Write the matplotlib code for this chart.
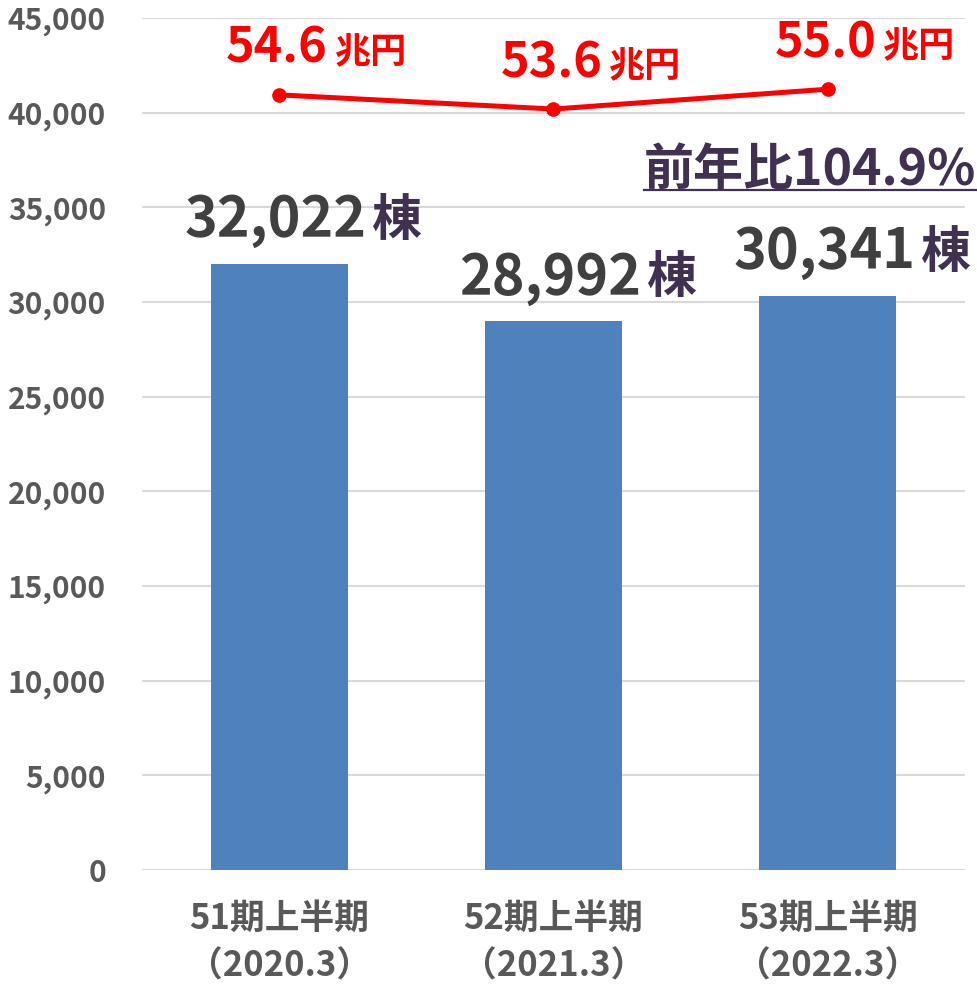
import matplotlib
matplotlib.use("Agg")
import matplotlib.pyplot as plt
from matplotlib.lines import Line2D
from matplotlib.ticker import FuncFormatter

plt.rcParams['font.family'] = ['Noto Sans CJK JP', 'DejaVu Sans']

# data
periods = ['51期上半期\n（2020.3）', '52期上半期\n（2021.3）', '53期上半期\n（2022.3）']
houses = [32022, 28992, 30341]          # 棟
amounts = [54.6, 53.6, 55.0]             # 兆円
yoy_label = '前年比104.9%'

blue = '#4F81BD'
grid_gray = '#D9D9D9'
tick_gray = '#595959'
num_gray = '#404040'
purple = '#403151'
red = '#FF0000'

fig = plt.figure(figsize=(9.78, 9.94), dpi=100)
ax = fig.add_axes([0.1452, 0.1247, 0.8415, 0.857])
x = list(range(len(periods)))

ax.bar(x, houses, width=0.5, color=blue, zorder=2)
ax.set_xlim(-0.5, 2.5)
ax.set_ylim(0, 45000)
ax.set_yticks(range(0, 45001, 5000))
ax.yaxis.set_major_formatter(FuncFormatter(lambda v, p: f'{int(v):,}'))
ax.grid(axis='y', color=grid_gray, linewidth=1.5, zorder=0)
ax.set_axisbelow(True)
for s in ax.spines.values():
    s.set_visible(False)
ax.tick_params(axis='y', length=0, pad=26, labelsize=21.5, labelcolor=tick_gray)
ax.tick_params(axis='x', length=0, pad=22, labelsize=25, labelcolor=tick_gray)
ax.set_xticks(x)
ax.set_xticklabels(periods, linespacing=1.45)
for lab in ax.get_xticklabels() + ax.get_yticklabels():
    lab.set_fontweight('bold')

# bar labels: number + 棟
for i, v in enumerate(houses):
    ax.annotate(f'{v:,}', xy=(i, v), xytext=(63, 20), textcoords='offset points',
                ha='right', va='baseline', fontsize=40, fontweight='bold', color=num_gray)
    ax.annotate('棟', xy=(i, v), xytext=(67, 20), textcoords='offset points',
                ha='left', va='baseline', fontsize=36, fontweight='bold', color=purple)

# market size line on hidden secondary axis
ax2 = ax.twinx()
ax2.set_ylim(0, 60)
ax2.plot(x, amounts, color=red, linewidth=3.6, marker='o', markersize=9.5, zorder=3)
ax2.axis('off')
for i, v in enumerate(amounts):
    ax2.annotate(f'{v:.1f}', xy=(i, v), xytext=(35, 23), textcoords='offset points',
                 ha='right', va='baseline', fontsize=35, fontweight='bold', color=red)
    ax2.annotate('兆円', xy=(i, v), xytext=(40, 23), textcoords='offset points',
                 ha='left', va='baseline', fontsize=26, fontweight='bold', color=red)

# year-on-year note, underlined
t = fig.text(0.998, 0.814, yoy_label, ha='right', va='baseline',
             fontsize=36, fontweight='bold', color=purple)
fig.canvas.draw()
bb = t.get_window_extent().transformed(fig.transFigure.inverted())
fig.add_artist(Line2D([bb.x0, bb.x1], [0.8088, 0.8088], color=purple, linewidth=1.6))

fig.savefig('out.png', dpi=100)
